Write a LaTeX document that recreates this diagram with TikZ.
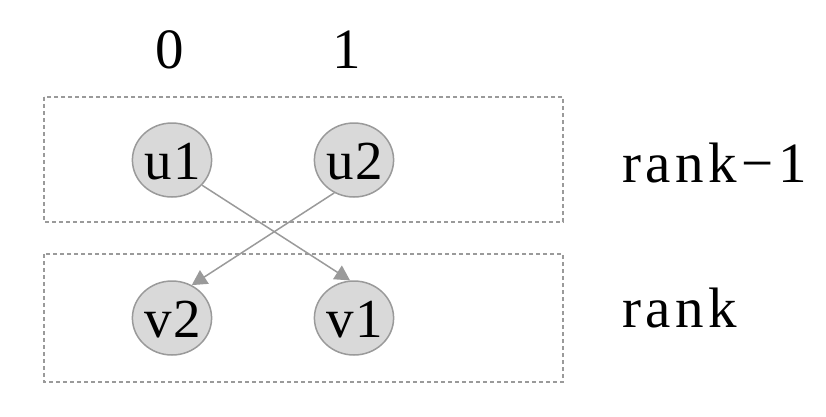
\documentclass[tikz,border=0pt]{standalone}
\usepackage{fontspec}
\setmainfont{Liberation Serif}[LetterSpace=8]
\newfontfamily\circfont{Liberation Serif}[LetterSpace=4]
\usetikzlibrary{shapes.geometric,arrows.meta}
\definecolor{edgegray}{HTML}{9A9A9A}
\definecolor{fillgray}{HTML}{D9D9D9}
\begin{document}
\begin{tikzpicture}[x=1pt,y=-1pt,
  vert/.style={ellipse,draw=edgegray,fill=fillgray,line width=1.5pt,minimum width=78pt,minimum height=74pt,inner sep=0pt,text width=56pt,align=center,text height=38pt,text depth=0pt,font=\circfont\fontsize{55}{55}\selectfont},
  rankbox/.style={draw=edgegray,line width=1.3pt,dash pattern=on 4pt off 3pt},
  lbl/.style={font=\fontsize{57}{57}\selectfont,inner sep=0pt},
  conn/.style={draw=edgegray,line width=1.5pt,-{Triangle[length=15pt,width=16pt]}}]
\useasboundingbox (0,0) rectangle (826,416);
\draw[rankbox] (44,97) rectangle (563,222);
\draw[rankbox] (44,254) rectangle (563,382);
\node[lbl] (c0) at (170,50) {0};
\node[lbl] (c1) at (347,50) {1};
\node[vert] (u1) at (172,160) {u1};
\node[vert] (u2) at (354,160) {u2};
\node[vert] (v2) at (172,318) {v2};
\node[vert] (v1) at (354,318) {v1};
\node[lbl,anchor=base west] (r1) at (622,182) {rank−1};
\node[lbl,anchor=base west] (r0) at (622,327) {rank};
\draw[conn] (u1.-40) -- (v1.96);
\draw[conn] (u2.-121) -- (v2.59);
\end{tikzpicture}
\end{document}
